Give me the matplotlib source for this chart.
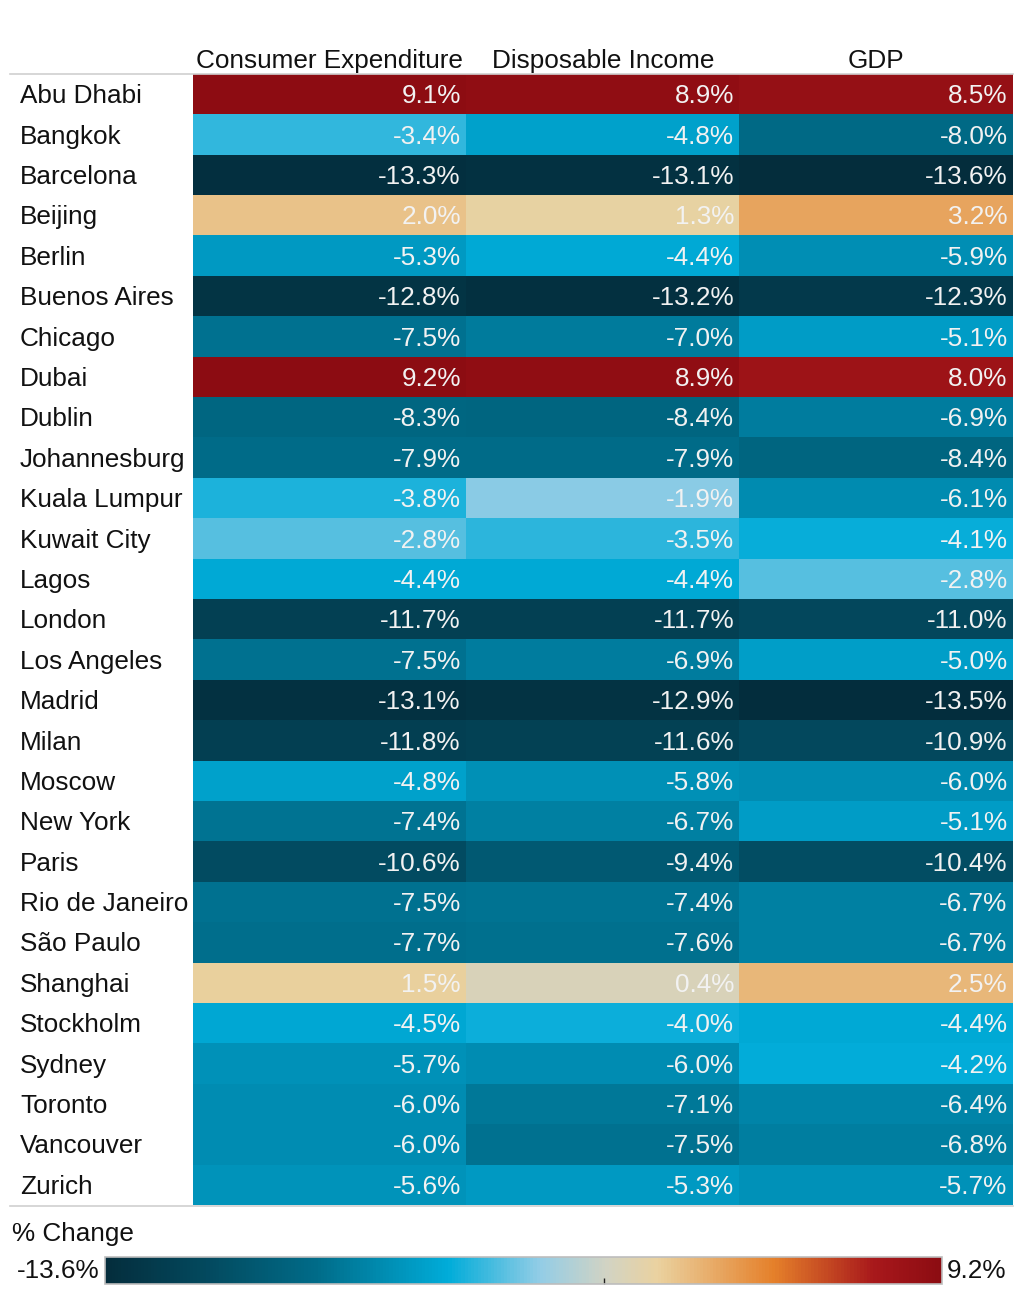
import numpy as np
import matplotlib
matplotlib.use("Agg")
import matplotlib.pyplot as plt
import matplotlib.transforms as mtransforms
from matplotlib.colors import LinearSegmentedColormap, Normalize
from matplotlib.lines import Line2D

plt.rcParams['font.family'] = ['Liberation Sans', 'DejaVu Sans']

cities = ["Abu Dhabi", "Bangkok", "Barcelona", "Beijing", "Berlin", "Buenos Aires",
          "Chicago", "Dubai", "Dublin", "Johannesburg", "Kuala Lumpur", "Kuwait City",
          "Lagos", "London", "Los Angeles", "Madrid", "Milan", "Moscow", "New York",
          "Paris", "Rio de Janeiro", "São Paulo", "Shanghai", "Stockholm", "Sydney",
          "Toronto", "Vancouver", "Zurich"]
columns = ["Consumer Expenditure", "Disposable Income", "GDP"]

consumer = [9.1, -3.4, -13.3, 2.0, -5.3, -12.8, -7.5, 9.2, -8.3, -7.9, -3.8, -2.8,
            -4.4, -11.7, -7.5, -13.1, -11.8, -4.8, -7.4, -10.6, -7.5, -7.7, 1.5,
            -4.5, -5.7, -6.0, -6.0, -5.6]
income = [8.9, -4.8, -13.1, 1.3, -4.4, -13.2, -7.0, 8.9, -8.4, -7.9, -1.9, -3.5,
          -4.4, -11.7, -6.9, -12.9, -11.6, -5.8, -6.7, -9.4, -7.4, -7.6, 0.4,
          -4.0, -6.0, -7.1, -7.5, -5.3]
gdp = [8.5, -8.0, -13.6, 3.2, -5.9, -12.3, -5.1, 8.0, -6.9, -8.4, -6.1, -4.1,
       -2.8, -11.0, -5.0, -13.5, -10.9, -6.0, -5.1, -10.4, -6.7, -6.7, 2.5,
       -4.4, -4.2, -6.4, -6.8, -5.7]

data = np.array([consumer, income, gdp]).T
vmin, vmax = data.min(), data.max()

cmap = LinearSegmentedColormap.from_list("pct", [
    (0.00, "#042d3c"),
    (0.12, "#03495e"),
    (0.25, "#006b88"),
    (0.41, "#00acd9"),
    (0.52, "#93cde6"),
    (0.60, "#d2d3c3"),
    (0.66, "#ead2a0"),
    (0.80, "#e5802a"),
    (0.92, "#a8181b"),
    (1.00, "#8c0c12"),
])
norm = Normalize(vmin=vmin, vmax=vmax)

FS = 18.8
W, H = 1024, 1301
fig = plt.figure(figsize=(W / 100, H / 100), dpi=100)

x0, x1, y0, y1 = 193, 1013, 74, 1205
ax = fig.add_axes([x0 / W, 1 - y1 / H, (x1 - x0) / W, (y1 - y0) / H])
ax.imshow(data, cmap=cmap, norm=norm, aspect='auto', interpolation='nearest')
ax.set_xticks([])
ax.set_yticks([])
for s in ax.spines.values():
    s.set_visible(False)

# city labels, left aligned at the figure margin
lab_tr = mtransforms.blended_transform_factory(fig.transFigure, ax.transData)
for i, c in enumerate(cities):
    ax.text(20 / W, i + 0.05, c, transform=lab_tr, ha='left', va='center',
            fontsize=FS, color='#111111')

for i in range(len(cities)):
    for j in range(len(columns)):
        ax.text(j + 0.48, i + 0.05, f"{data[i, j]:.1f}%", ha='right', va='center',
                fontsize=FS, color='#f2f2f2')

for j, c in enumerate(columns):
    ax.text(j, -0.64, c, ha='center', va='baseline', fontsize=FS, color='#111111')

# horizontal rules
for y in (y0, y1 + 1):
    fig.add_artist(Line2D([10 / W, x1 / W], [1 - y / H, 1 - y / H],
                          color='#d0d0d0', lw=1.2))

# colour legend
fig.text(12 / W, 1 - 1234 / H, "% Change", fontsize=FS, color='#111111',
         ha='left', va='center')
cax = fig.add_axes([105 / W, 1 - 1284 / H, 837 / W, 27 / H])
sm = plt.cm.ScalarMappable(norm=norm, cmap=cmap)
cb = fig.colorbar(sm, cax=cax, orientation='horizontal')
cb.set_ticks([0])
cb.set_ticklabels([""])
cax.tick_params(axis='x', length=4, width=1, color='#222222', direction='in')
cb.outline.set_edgecolor('#bdbdbd')
cb.outline.set_linewidth(1.2)
fig.text(99 / W, 1 - 1271 / H, f"{vmin:.1f}%", fontsize=FS, color='#111111',
         ha='right', va='center')
fig.text(947 / W, 1 - 1271 / H, f"{vmax:.1f}%", fontsize=FS, color='#111111',
         ha='left', va='center')

fig.savefig("out.png", dpi=100)
